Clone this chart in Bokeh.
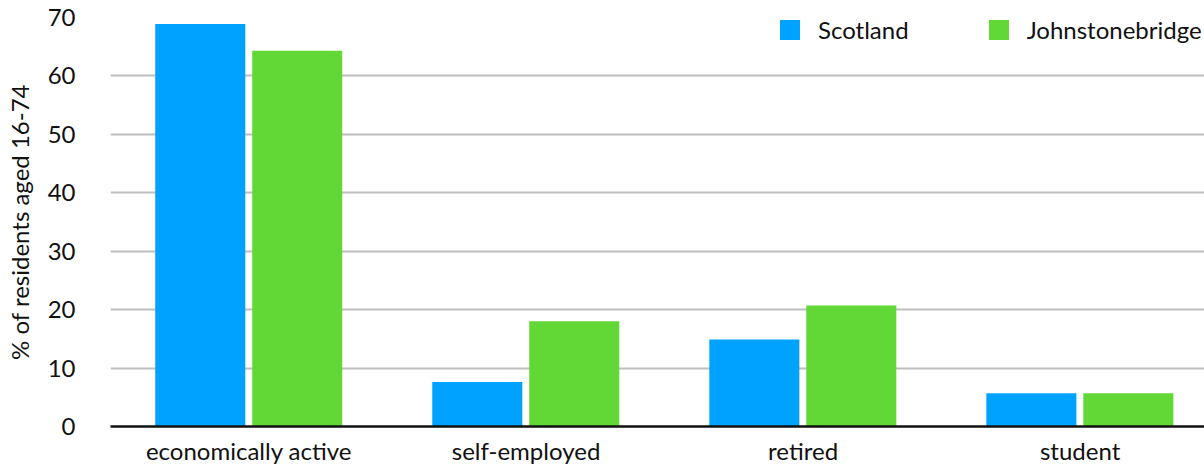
from bokeh.plotting import figure
from bokeh.models import ColumnDataSource, Range1d, FixedTicker, Legend, LegendItem
from bokeh.transform import dodge
from bokeh.embed import file_html
from bokeh.resources import INLINE

categories = ["economically active", "self-employed", "retired", "student"]
scotland = [68.9, 7.6, 14.9, 5.7]
johnstonebridge = [64.3, 18.0, 20.7, 5.7]
series_names = ["Scotland", "Johnstonebridge"]
colors = ["#00A2FF", "#61D836"]
y_ticks = [0, 10, 20, 30, 40, 50, 60, 70]

FONT = "Lato"
FS = "24px"
TXT = "#111111"
xs = list(range(len(categories)))

p = figure(width=1204, height=467, output_backend="svg", toolbar_location=None,
           x_range=Range1d(-0.500, 3.449), y_range=Range1d(0, 70),
           min_border_left=110, min_border_right=0, min_border_top=17, min_border_bottom=41)
p.outline_line_color = None
p.background_fill_color = "white"
p.border_fill_color = "white"

src = ColumnDataSource(dict(x=xs, s=scotland, j=johnstonebridge))
bw = 0.325
r1 = p.vbar(x=dodge("x", -0.176, range=p.x_range), top="s", width=bw, source=src,
            fill_color=colors[0], line_color=None)
r2 = p.vbar(x=dodge("x", 0.174, range=p.x_range), top="j", width=bw, source=src,
            fill_color=colors[1], line_color=None)

# axes
p.xaxis.ticker = FixedTicker(ticks=xs)
p.xaxis.major_label_overrides = {i: c for i, c in enumerate(categories)}
p.xaxis.major_tick_line_color = None
p.xaxis.minor_tick_line_color = None
p.xaxis.axis_line_color = TXT
p.xaxis.axis_line_width = 2.5
p.xaxis.major_label_text_font = FONT
p.xaxis.major_label_text_font_size = FS
p.xaxis.major_label_text_color = TXT
p.xaxis.major_label_standoff = 3

p.yaxis.ticker = FixedTicker(ticks=y_ticks)
p.yaxis.axis_line_color = None
p.yaxis.major_tick_line_color = None
p.yaxis.minor_tick_line_color = None
p.yaxis.major_label_text_font = FONT
p.yaxis.major_label_text_font_size = FS
p.yaxis.major_label_text_color = TXT
p.yaxis.major_label_standoff = 29
p.yaxis.axis_label = "% of residents aged 16-74"
p.yaxis.axis_label_text_font = FONT
p.yaxis.axis_label_text_font_size = FS
p.yaxis.axis_label_text_font_style = "normal"
p.yaxis.axis_label_text_color = TXT
p.yaxis.axis_label_standoff = 11

p.xgrid.grid_line_color = None
p.ygrid.ticker = FixedTicker(ticks=y_ticks[1:])
p.ygrid.grid_line_color = "#BEBEBE"
p.ygrid.grid_line_width = 2

legend = Legend(items=[LegendItem(label=series_names[0], renderers=[r1]),
                       LegendItem(label=series_names[1], renderers=[r2])],
                orientation="horizontal", location=(667, 382),
                glyph_width=25, glyph_height=25, label_standoff=16, spacing=77,
                padding=0, margin=0, border_line_color=None, background_fill_alpha=0,
                label_text_font=FONT, label_text_font_size=FS, label_text_color=TXT)
p.add_layout(legend, "center")

open("out.html", "w").write(file_html(p, INLINE))
